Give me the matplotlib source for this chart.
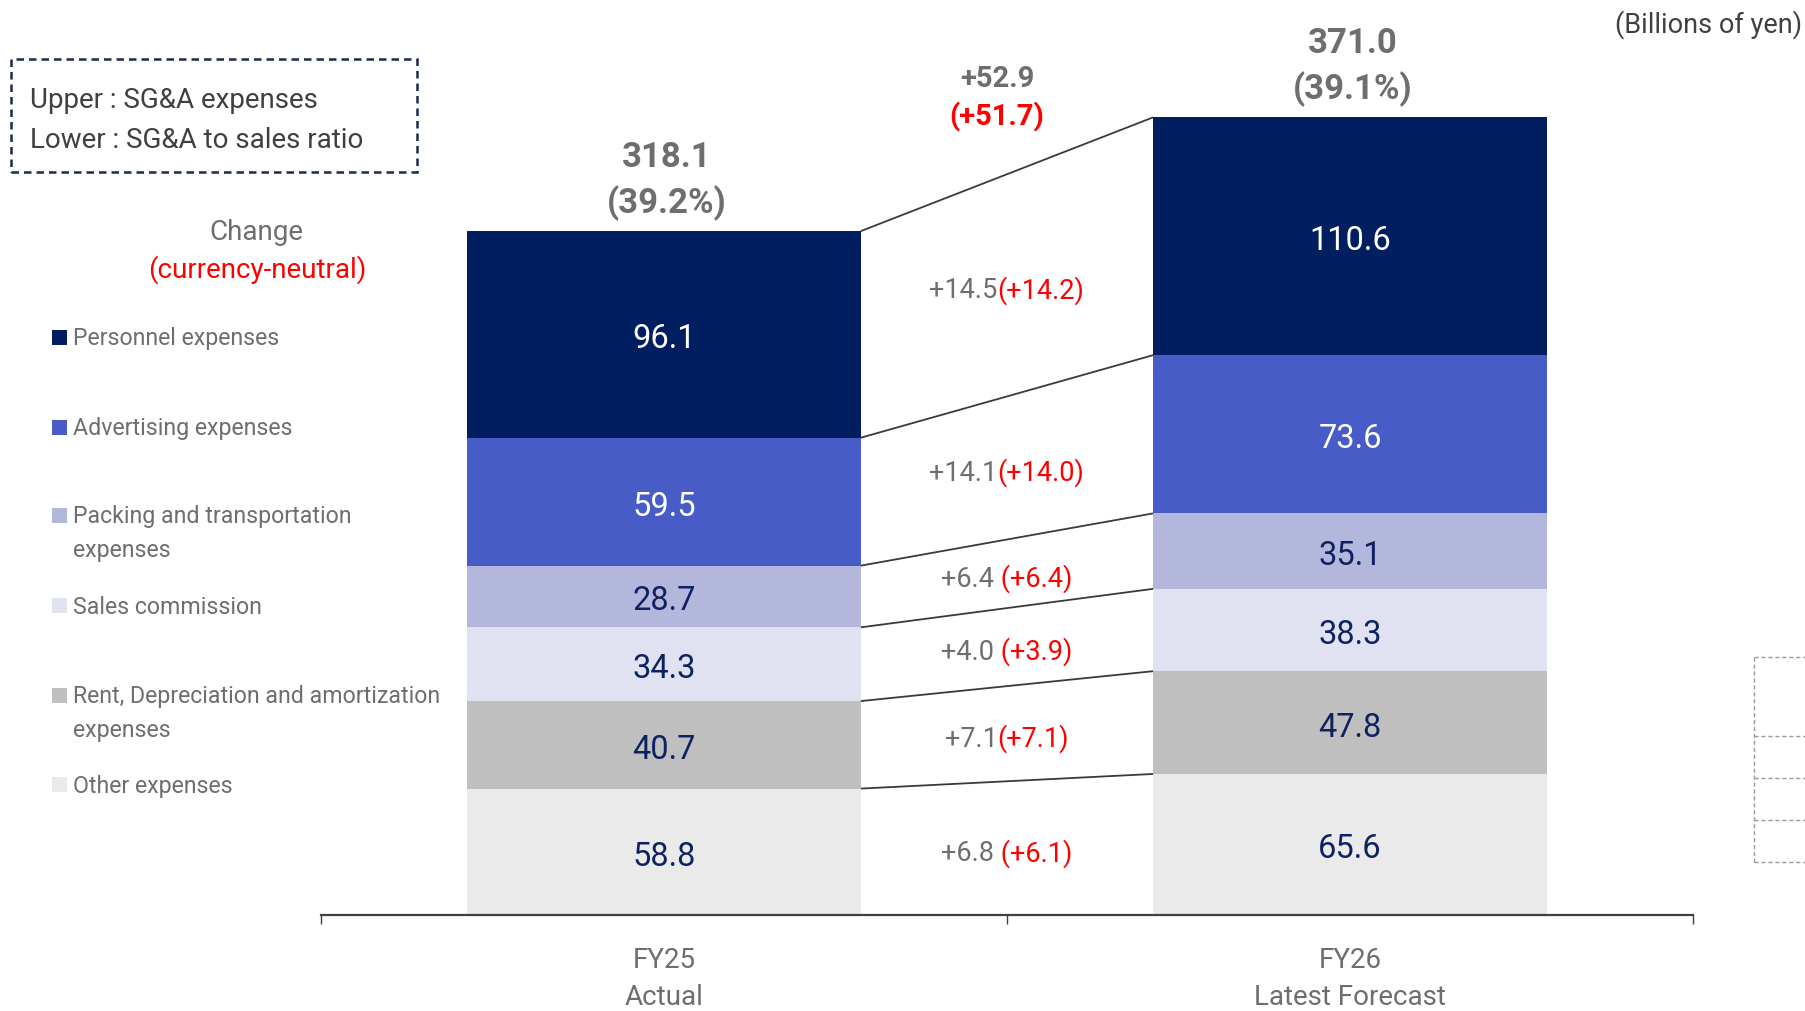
import matplotlib
matplotlib.use("Agg")
import matplotlib.pyplot as plt
from matplotlib.lines import Line2D
from matplotlib.patches import Rectangle
from matplotlib.offsetbox import TextArea, HPacker, AnnotationBbox
import numpy as np

plt.rcParams['font.family'] = ['Roboto', 'DejaVu Sans']

# ---------------- data ----------------
periods = ["FY25\nActual", "FY26\nLatest Forecast"]
# stacked bottom -> top
categories = ["Other expenses",
              "Rent, Depreciation and amortization\nexpenses",
              "Sales commission",
              "Packing and transportation\nexpenses",
              "Advertising expenses",
              "Personnel expenses"]
fy25 = [58.8, 40.7, 34.3, 28.7, 59.5, 96.1]
fy26 = [65.6, 47.8, 38.3, 35.1, 73.6, 110.6]
totals = [318.1, 371.0]
ratios = [39.2, 39.1]
change = [6.8, 7.1, 4.0, 6.4, 14.1, 14.5]
change_cn = [6.1, 7.1, 3.9, 6.4, 14.0, 14.2]
change_space = [" ", "", " ", " ", "", ""]
total_change = 52.9
total_change_cn = 51.7

colors = ["#EAEAEA", "#BFBFBF", "#E1E2F1", "#B4B7DC", "#485CC7", "#001E60"]
label_colors = ["#0E2160", "#0E2160", "#0E2160", "#0E2160", "white", "white"]

GRAY = "#6E6E6E"
DARK = "#404040"
RED = "#FF0000"

# ---------------- figure ----------------
W, H = 1805, 1011
fig = plt.figure(figsize=(W / 100, H / 100), dpi=100)


def fx(px):
    return px / W


def fy(py):
    return 1 - py / H


PX_PER_UNIT = 2.15
ax = fig.add_axes([321 / W, (H - 915) / H, 1372 / W, 915 / H])
ax.patch.set_visible(False)
ax.set_xlim(-0.5, 1.5)
ax.set_ylim(0, 915 / PX_PER_UNIT)

x = np.arange(len(periods))
width = 0.574
data = np.array([fy25, fy26])
bottoms = np.zeros(len(periods))

for i in range(len(categories)):
    vals = data[:, i]
    ax.bar(x, vals, width, bottom=bottoms, color=colors[i], linewidth=0, zorder=2)
    mids = bottoms + vals / 2
    for xi, v, m in zip(x, vals, mids):
        ax.annotate(f"{v:.1f}", (xi, m), xytext=(0, -5), textcoords='offset pixels',
                    ha='center', va='center', fontsize=23.5,
                    color=label_colors[i], zorder=4)
    tops = bottoms + vals
    ax.plot([x[0] + width / 2, x[1] - width / 2], [tops[0], tops[1]],
            color="#3A3A3A", lw=1.3, zorder=3, solid_capstyle='butt')
    # change label between bars
    ymid = mids.mean()
    ta1 = TextArea(f"+{change[i]:.1f}", textprops=dict(color=GRAY, fontsize=19.5))
    ta2 = TextArea(f"{change_space[i]}(+{change_cn[i]:.1f})",
                   textprops=dict(color=RED, fontsize=19.5))
    box = HPacker(children=[ta1, ta2], align='baseline', pad=0, sep=0)
    ab = AnnotationBbox(box, (0.5, ymid), xybox=(0, -5), boxcoords='offset pixels',
                        frameon=False, box_alignment=(0.5, 0.5), pad=0, zorder=5)
    ax.add_artist(ab)
    bottoms = tops

# totals on top of bars
for xi, t, r in zip(x, totals, ratios):
    ax.annotate(f"{t:.1f}", (xi, t), xytext=(3, 74), textcoords='offset pixels',
                ha='center', va='center', fontsize=25, fontweight='bold', color=GRAY)
    ax.annotate(f"({r:.1f}%)", (xi, t), xytext=(3, 28), textcoords='offset pixels',
                ha='center', va='center', fontsize=25, fontweight='bold', color=GRAY)

# total change
ax.annotate(f"+{total_change:.1f}", (0.5, totals[1]), xytext=(-10, 38),
            textcoords='offset pixels', ha='center', va='center', fontsize=21,
            fontweight='bold', color=GRAY)
ax.annotate(f"(+{total_change_cn:.1f})", (0.5, totals[1]), xytext=(-10, 0),
            textcoords='offset pixels', ha='center', va='center', fontsize=21,
            fontweight='bold', color=RED)

# axis styling
for s in ['top', 'right', 'left']:
    ax.spines[s].set_visible(False)
ax.spines['bottom'].set_color(DARK)
ax.spines['bottom'].set_linewidth(1.6)
ax.set_yticks([])
ax.set_xticks([-0.5, 0.5, 1.5])
ax.set_xticklabels([])
ax.tick_params(axis='x', which='major', length=6.5, width=1, color=DARK, direction='out')
ax.set_xticks(x, minor=True)
ax.set_xticklabels(periods, minor=True)
ax.tick_params(axis='x', which='minor', length=0, pad=23, labelsize=20, labelcolor=GRAY)
for t in ax.get_xticklabels(minor=True):
    t.set_linespacing(1.5)

# ---------------- decorations outside plot ----------------
fig.text(fx(1802), fy(25), "(Billions of yen)", ha='right', va='center',
         fontsize=19.5, color=DARK)

fig.add_artist(Rectangle((fx(11), fy(172)), fx(417) - fx(11), (172 - 59) / H,
                         transform=fig.transFigure, fill=False, lw=1.8,
                         ls=(0, (3, 2)), edgecolor="#1B2A4E"))
fig.text(fx(30), fy(101), "Upper : SG&A expenses", va='center', fontsize=20, color=DARK)
fig.text(fx(30), fy(140), "Lower : SG&A to sales ratio", va='center', fontsize=20, color=DARK)

fig.text(fx(256), fy(233), "Change", ha='center', va='center', fontsize=20, color=GRAY)
fig.text(fx(257), fy(270), "(currency-neutral)", ha='center', va='center',
         fontsize=20, color=RED)

# legend (top -> bottom)
legend_y = [337, 427, 515, 605, 695, 784]
for cat, col, yc in zip(categories[::-1], colors[::-1], legend_y):
    fig.add_artist(Rectangle((fx(52), fy(yc + 7.5)), 14.7 / W, 14.7 / H,
                             transform=fig.transFigure, facecolor=col, edgecolor='none'))
    for k, line in enumerate(cat.split("\n")):
        fig.text(fx(73), fy(yc + 2 + k * 33), line, va='center', fontsize=16.7, color=GRAY)

# cut-off dashed table at right edge
dash_col = "#9A9A9A"
fig.add_artist(Line2D([fx(1754), fx(1754)], [fy(657), fy(862)], transform=fig.transFigure,
                      color=dash_col, lw=1, ls=(0, (3, 2))))
for yy in [657, 736, 778, 820, 862]:
    fig.add_artist(Line2D([fx(1754), fx(1805)], [fy(yy), fy(yy)], transform=fig.transFigure,
                          color=dash_col, lw=1, ls=(0, (3, 2))))

fig.savefig("out.png", dpi=100)
